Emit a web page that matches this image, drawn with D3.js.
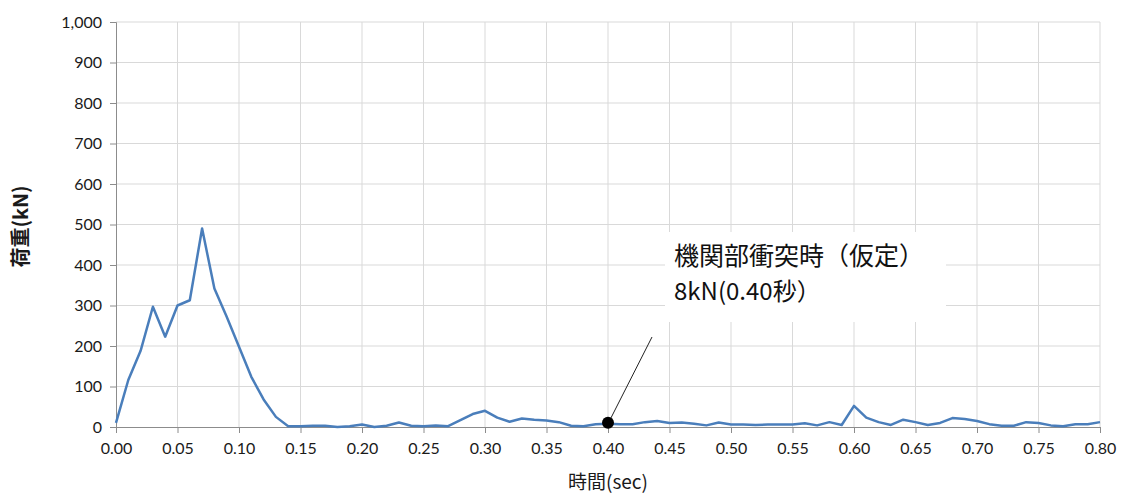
<!DOCTYPE html>
<html><head><meta charset="utf-8">
<script src="https://cdn.jsdelivr.net/npm/d3@7"></script>
<style>
body{margin:0;background:#fff;}
svg{display:block;}
</style></head>
<body>
<svg id="c" width="1123" height="496"></svg>
<script>
const times = d3.range(0, 81).map(i => +(i / 100).toFixed(2));
const loads = [10,116,188,297,223,300,313,490,342,272,
  198,124,68,25,2,2,3,3,0,2,
  6,0,3,11,3,2,4,2,17,32,
  40,23,13,21,18,16,12,3,2,7,
  8,7,7,12,15,10,11,8,4,11,
  6,6,5,6,6,6,9,4,12,5,
  52,23,12,5,18,12,5,10,22,20,
  15,7,3,3,12,10,4,2,7,7,12];
const xTicks = d3.range(0, 17).map(i => +(i * 0.05).toFixed(2));
const yTicks = d3.range(0, 11).map(i => i * 100);
const annoTime = 0.40, annoLoad = 8;
const annoLines = ["機関部衝突時（仮定）", "8kN(0.40秒）"];
const xTitle = "時間(sec)", yTitle = "荷重(kN)";

const svg = d3.select("#c");
const L = 116, R = 1100, T = 22, B = 427;
const x = d3.scaleLinear().domain([0, 0.8]).range([L, R]);
const y = d3.scaleLinear().domain([0, 1000]).range([B, T]);
const font = "Lato, 'Noto Sans CJK JP', sans-serif";
const jfont = "'Noto Sans CJK JP', sans-serif";

// gridlines
svg.append("g").selectAll("line.h").data(yTicks.filter(d => d > 0)).join("line")
  .attr("x1", L).attr("x2", R).attr("y1", d => y(d)).attr("y2", d => y(d))
  .attr("stroke", "#d9d9d9").attr("stroke-width", 1);
svg.append("g").selectAll("line.v").data(xTicks.filter(d => d > 0)).join("line")
  .attr("x1", d => x(d)).attr("x2", d => x(d)).attr("y1", T).attr("y2", B)
  .attr("stroke", "#d9d9d9").attr("stroke-width", 1);

// axes
const ya = svg.append("g").attr("transform", `translate(${L},0)`)
  .call(d3.axisLeft(y).tickValues(yTicks).tickSize(6).tickPadding(8).tickFormat(d3.format(",")));
const xa = svg.append("g").attr("transform", `translate(0,${B})`)
  .call(d3.axisBottom(x).tickValues(xTicks).tickSize(6).tickPadding(10).tickFormat(d3.format(".2f")));
[ya, xa].forEach(a => {
  a.select(".domain").attr("stroke", "#8c8c8c");
  a.selectAll(".tick line").attr("stroke", "#8c8c8c");
  a.selectAll("text").attr("font-family", font).attr("font-size", 16).attr("fill", "#1a1a1a");
});

// line
svg.append("path").datum(times.map((t, i) => [t, loads[i]]))
  .attr("fill", "none").attr("stroke", "#4a7ebb").attr("stroke-width", 2.5)
  .attr("stroke-linejoin", "round")
  .attr("d", d3.line().x(d => x(d[0])).y(d => y(d[1])));

// annotation
const bx = 665, by = 232;
svg.append("rect").attr("x", bx).attr("y", by).attr("width", 281).attr("height", 90).attr("fill", "#fff");
svg.append("line").attr("x1", x(annoTime)).attr("y1", y(annoLoad))
  .attr("x2", 652).attr("y2", 337).attr("stroke", "#222").attr("stroke-width", 1);
svg.append("circle").attr("cx", x(annoTime)).attr("cy", y(annoLoad) - 1).attr("r", 6).attr("fill", "#000");
svg.append("text").attr("x", 674).attr("y", 265).attr("font-family", jfont).attr("font-size", 25)
  .attr("fill", "#111").text(annoLines[0]);
svg.append("text").attr("x", 674).attr("y", 300).attr("font-family", jfont).attr("font-size", 24)
  .attr("fill", "#111").text(annoLines[1]);

// titles
svg.append("text").attr("x", (L + R) / 2).attr("y", 489).attr("text-anchor", "middle")
  .attr("font-family", jfont).attr("font-size", 19).attr("fill", "#1a1a1a").text(xTitle);
svg.append("text").attr("transform", `translate(28,${(T + B) / 2 + 2}) rotate(-90)`).attr("text-anchor", "middle")
  .attr("font-family", jfont).attr("font-size", 20).attr("font-weight", 700).attr("fill", "#1a1a1a").text(yTitle);
</script>
</body></html>
